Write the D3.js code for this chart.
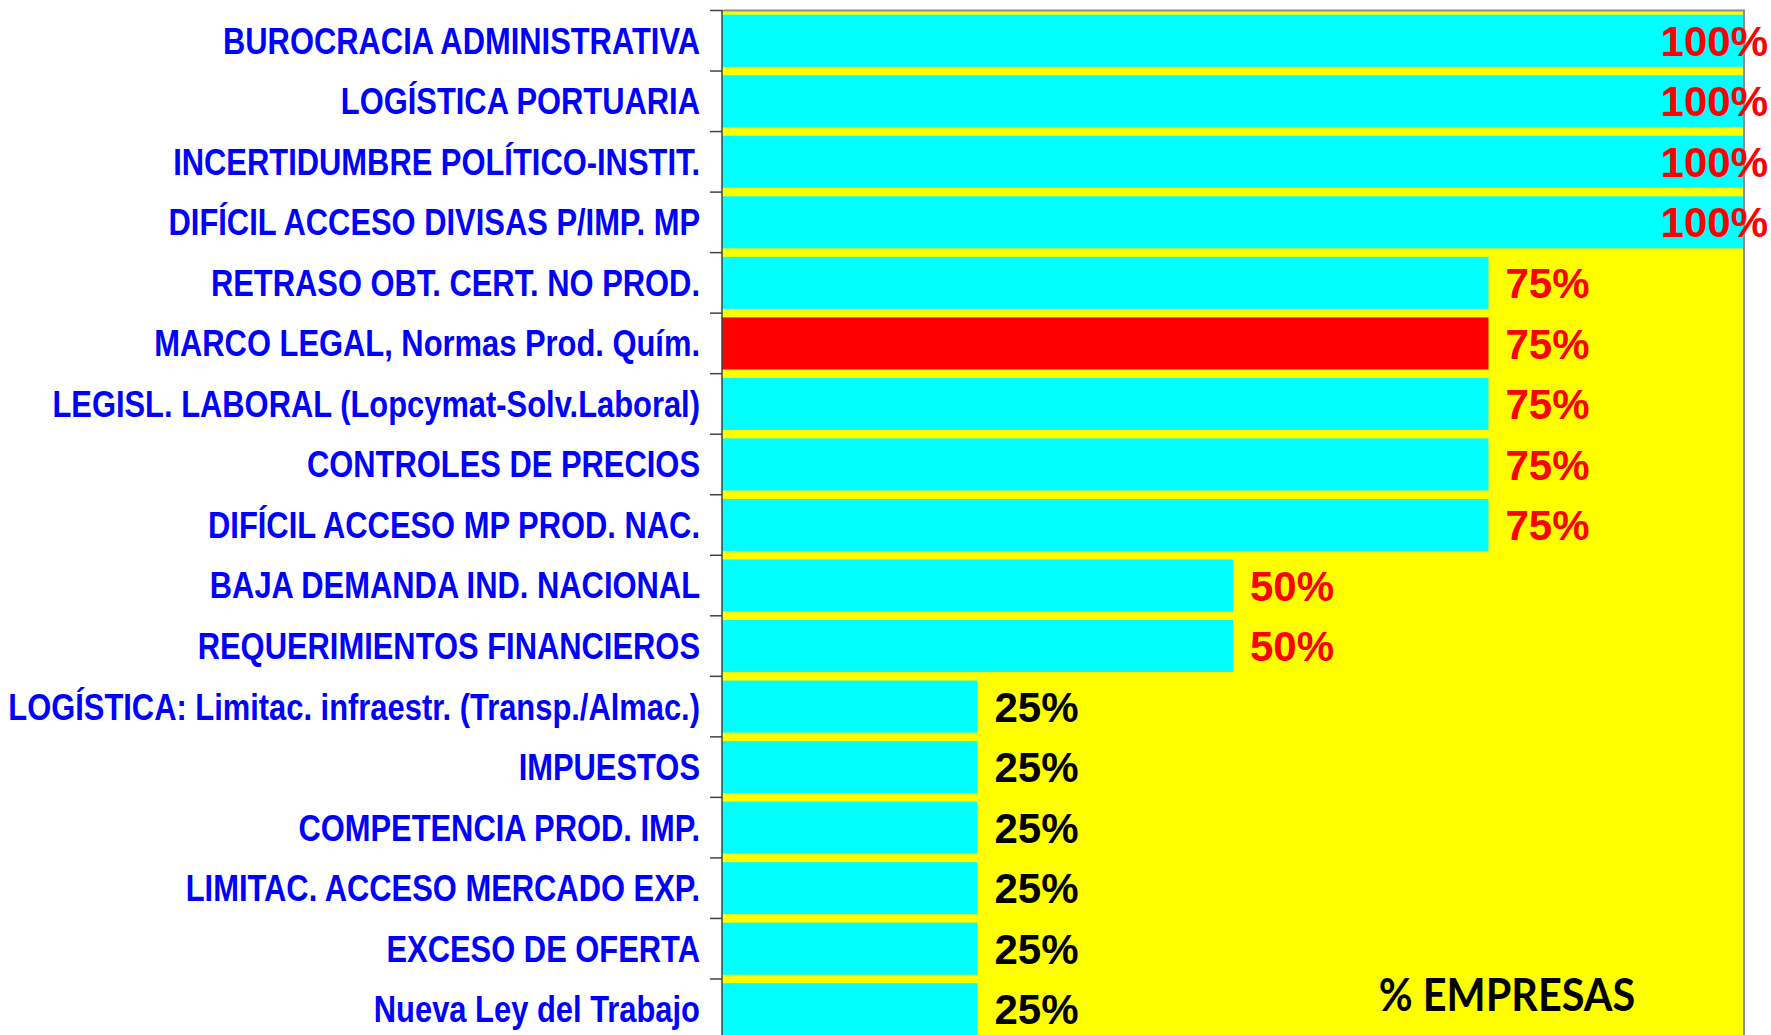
<!DOCTYPE html>
<html lang="es">
<head>
    <meta charset="UTF-8">
    <title>% Empresas - Limitaciones</title>
    <style>
        body {
            margin: 0;
            background-color: white;
        }
        svg {
            display: block;
        }
        .cat-axis text {
            font-family: 'Liberation Sans', Arial, sans-serif;
            font-weight: bold;
            font-size: 37px;
            fill: #0000ff;
        }
        .val-label {
            font-family: 'Liberation Sans', Arial, sans-serif;
            font-weight: bold;
            font-size: 42px;
        }
        .axis-title {
            font-family: Lato, 'Open Sans', sans-serif;
            font-weight: bold;
            font-size: 45px;
            fill: black;
        }
    </style>
</head>
<body>
    <div id="chart"></div>

    <script src="https://d3js.org/d3.v7.min.js"></script>

    <script>
        // categories, top to bottom
        var categories = [
            "BUROCRACIA ADMINISTRATIVA",
            "LOGÍSTICA PORTUARIA",
            "INCERTIDUMBRE POLÍTICO-INSTIT.",
            "DIFÍCIL ACCESO DIVISAS P/IMP. MP",
            "RETRASO OBT. CERT. NO PROD.",
            "MARCO LEGAL, Normas Prod. Quím.",
            "LEGISL. LABORAL (Lopcymat-Solv.Laboral)",
            "CONTROLES DE PRECIOS",
            "DIFÍCIL ACCESO MP PROD. NAC.",
            "BAJA DEMANDA IND. NACIONAL",
            "REQUERIMIENTOS FINANCIEROS",
            "LOGÍSTICA: Limitac. infraestr. (Transp./Almac.)",
            "IMPUESTOS",
            "COMPETENCIA PROD. IMP.",
            "LIMITAC. ACCESO MERCADO EXP.",
            "EXCESO DE OFERTA",
            "Nueva Ley del Trabajo"
        ];

        // share of companies
        var values = [1, 1, 1, 1, 0.75, 0.75, 0.75, 0.75, 0.75, 0.5, 0.5, 0.25, 0.25, 0.25, 0.25, 0.25, 0.25];

        // bar drawn in red
        var highlighted = ["MARCO LEGAL, Normas Prod. Quím."];

        var axisTitle = "% EMPRESAS";

        var data = categories.map(function(c, i) {
            return { name: c, value: values[i] };
        });

        // canvas
        var w = 1771;
        var h = 1035;
        var plotLeft = 722, plotRight = 1744, plotTop = 10.5, plotBottom = 1039.5;
        var narrow = 0.835; // no Arial Narrow installed, squeeze the labels instead

        var svg = d3.select("#chart")
            .append("svg")
            .attr("width", w)
            .attr("height", h);

        var x = d3.scaleLinear()
            .domain([0, 1])
            .range([plotLeft, plotRight]);

        var y = d3.scaleBand()
            .domain(categories)
            .range([plotTop, plotBottom])
            .paddingInner(0.14)
            .paddingOuter(0.07);

        // yellow plot area
        svg.append("rect")
            .attr("x", plotLeft)
            .attr("y", plotTop)
            .attr("width", plotRight - plotLeft)
            .attr("height", plotBottom - plotTop)
            .attr("fill", "#ffff00");

        // bars
        svg.selectAll(".bar")
            .data(data)
            .enter()
            .append("rect")
            .attr("class", "bar")
            .attr("x", x(0))
            .attr("y", function(d) { return y(d.name); })
            .attr("width", function(d) { return x(d.value) - x(0); })
            .attr("height", y.bandwidth())
            .attr("fill", function(d) { return highlighted.indexOf(d.name) >= 0 ? "#ff0000" : "#00ffff"; });

        // plot border, top and right (grey)
        svg.append("path")
            .attr("d", "M" + plotLeft + "," + plotTop + "H" + plotRight + "V" + plotBottom)
            .attr("fill", "none")
            .attr("stroke", "#8c8c8c")
            .attr("stroke-width", 2);

        // category axis, labels only
        var yAxis = svg.append("g")
            .attr("class", "cat-axis")
            .attr("transform", "translate(" + plotLeft + ",0)")
            .call(d3.axisLeft(y).tickSize(0).tickPadding(22));
        yAxis.select(".domain").remove();
        yAxis.selectAll("text")
            .attr("x", 0)
            .attr("dy", "0.35em")
            .attr("transform", "translate(-22,0) scale(" + narrow + ",1)");

        // axis line and ticks between categories
        var bounds = d3.range(categories.length + 1).map(function(i) {
            return plotTop + i * y.step();
        });
        svg.append("line")
            .attr("x1", plotLeft).attr("x2", plotLeft)
            .attr("y1", plotTop).attr("y2", plotBottom)
            .attr("stroke", "#404040")
            .attr("stroke-width", 1.5);
        svg.selectAll(".tick-mark")
            .data(bounds)
            .enter()
            .append("line")
            .attr("class", "tick-mark")
            .attr("x1", plotLeft - 12).attr("x2", plotLeft)
            .attr("y1", function(d) { return d; })
            .attr("y2", function(d) { return d; })
            .attr("stroke", "#404040")
            .attr("stroke-width", 1.5);

        // value labels
        svg.selectAll(".val-label")
            .data(data)
            .enter()
            .append("text")
            .attr("class", "val-label")
            .attr("x", function(d) { return d.value >= 1 ? x(d.value) + 24 : x(d.value) + 17; })
            .attr("y", function(d) { return y(d.name) + y.bandwidth() / 2; })
            .attr("dy", "0.36em")
            .attr("text-anchor", function(d) { return d.value >= 1 ? "end" : "start"; })
            .attr("fill", function(d) { return d.value >= 0.5 ? "#ff0000" : "#000000"; })
            .text(function(d) { return d3.format(".0%")(d.value); });

        // axis title
        svg.append("text")
            .attr("class", "axis-title")
            .attr("x", 0)
            .attr("y", 0)
            .attr("text-anchor", "middle")
            .attr("transform", "translate(1507,1011) scale(0.92,1)")
            .text(axisTitle);
    </script>
</body>
</html>
